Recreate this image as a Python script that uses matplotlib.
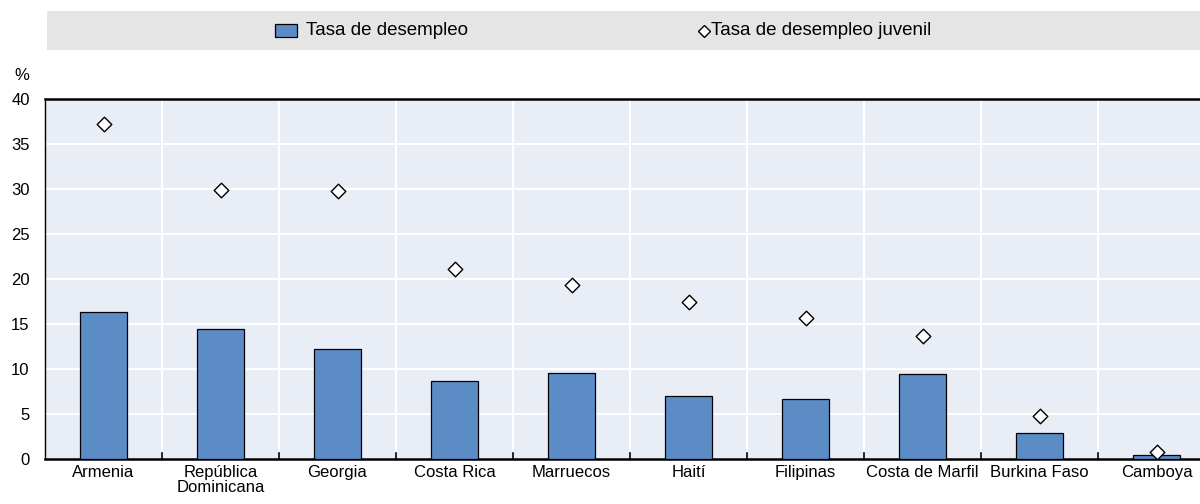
import matplotlib.pyplot as plt
from matplotlib.lines import Line2D
from matplotlib.patches import Rectangle
import numpy as np

countries = ["Armenia", "República\nDominicana", "Georgia", "Costa Rica", "Marruecos",
             "Haití", "Filipinas", "Costa de Marfil", "Burkina Faso", "Camboya"]
unemployment = [16.3, 14.4, 12.2, 8.7, 9.6, 7.0, 6.7, 9.5, 2.9, 0.5]
youth_unemployment = [37.2, 29.9, 29.8, 21.1, 19.3, 17.4, 15.7, 13.7, 4.8, 0.8]

plt.rcParams["font.family"] = ["Liberation Sans", "DejaVu Sans"]
plt.rcParams["font.size"] = 12

W, H = 1200, 504
fig = plt.figure(figsize=(W / 100, H / 100), dpi=100)

# axes: left 45px, bottom at y=459, top at y=99, runs past the right edge
ax = fig.add_axes([45 / W, 45 / H, 1170 / W, 360 / H])
ax.set_facecolor("#e9edf6")

x = np.arange(len(countries))
ax.bar(x, unemployment, width=0.41, color="#5b8cc6", edgecolor="black",
       linewidth=0.9, zorder=3)
ax.scatter(x, youth_unemployment, marker="D", s=55, facecolor="white",
           edgecolor="black", linewidth=1.0, zorder=4)

ax.set_xlim(-0.5, len(countries) - 0.5)
ax.set_ylim(0, 40)
ax.set_yticks(range(0, 41, 5))
ax.set_xticks(x)
ax.set_xticklabels(countries, linespacing=1.05)
ax.tick_params(axis="x", length=0, pad=4)
ax.tick_params(axis="y", length=0, pad=11)

# category boundaries: white grid + small tick marks
for b in np.arange(0.5, len(countries) - 0.5, 1):
    ax.axvline(b, color="white", linewidth=1.5, zorder=1)
    ax.plot([b, b], [0, 0.7], color="black", linewidth=1.2, zorder=2, clip_on=False)
for yv in range(5, 41, 5):
    ax.axhline(yv, color="white", linewidth=1.5, zorder=1)

for side in ["top", "bottom", "left"]:
    ax.spines[side].set_color("black")
ax.spines["top"].set_linewidth(1.8)
ax.spines["bottom"].set_linewidth(1.8)
ax.spines["left"].set_linewidth(1.0)
ax.spines["right"].set_visible(False)

fig.text(22 / W, 1 - 75 / H, "%", ha="center", va="center")

# legend band, drawn by hand
fig.patches.append(Rectangle((47 / W, 1 - 50 / H), (W - 47) / W, 39 / H,
                             transform=fig.transFigure, facecolor="#e5e5e5",
                             edgecolor="none", zorder=0))
ly = 1 - 30.5 / H
fig.patches.append(Rectangle((275 / W, 1 - 36.5 / H), 22 / W, 12 / H,
                             transform=fig.transFigure, facecolor="#5b8cc6",
                             edgecolor="black", linewidth=0.9, zorder=1))
fig.text(306 / W, ly, "Tasa de desempleo", ha="left", va="center", fontsize=13.5)
fig.add_artist(Line2D([704 / W], [ly], transform=fig.transFigure, marker="D",
                      linestyle="", markersize=6, markerfacecolor="white",
                      markeredgecolor="black", markeredgewidth=1.0))
fig.text(711 / W, ly, "Tasa de desempleo juvenil", ha="left", va="center",
         fontsize=13.5)

fig.savefig("out.png", dpi=100)
